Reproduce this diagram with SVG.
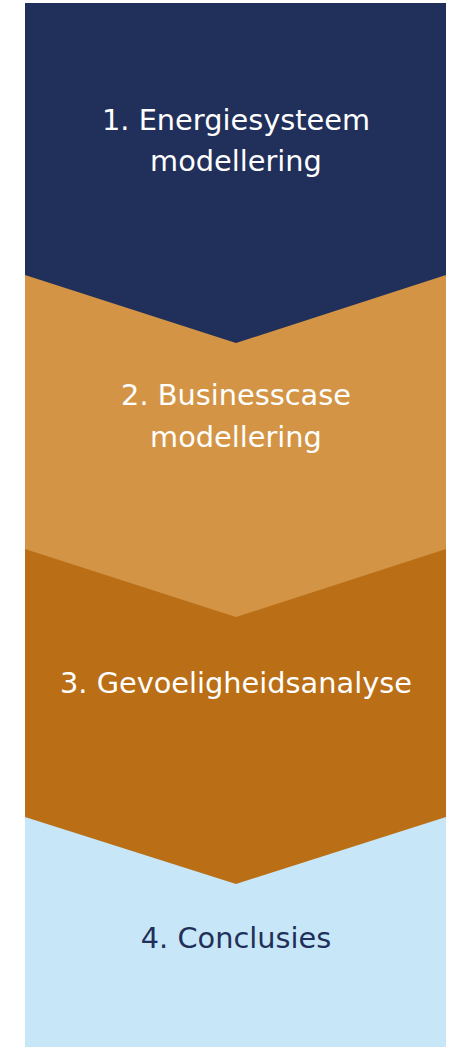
<svg xmlns="http://www.w3.org/2000/svg" width="454" height="1048" viewBox="0 0 454 1048">
<style>
text{font-family:"DejaVu Sans",Verdana,sans-serif;font-size:28.8px;text-anchor:middle;fill:#ffffff}
.dark{fill:#21305A}
</style>
<rect width="454" height="1048" fill="#ffffff"/>
<g id="step4">
<polygon points="25,817 446,817 446,1047 25,1047" fill="#C7E7F8"/>
<text x="236" y="948" class="dark">4. Conclusies</text>
</g>
<g id="step3">
<polygon points="25,549 446,549 446,817 236,884 25,817" fill="#BA6F17"/>
<text x="236" y="693">3. Gevoeligheidsanalyse</text>
</g>
<g id="step2">
<polygon points="25,275 446,275 446,549 236,617 25,549" fill="#D39545"/>
<text x="236" y="405">2. Businesscase</text>
<text x="236" y="447">modellering</text>
</g>
<g id="step1">
<polygon points="25,3 446,3 446,275 236,343 25,275" fill="#21305A"/>
<text x="236" y="130">1. Energiesysteem</text>
<text x="236" y="171">modellering</text>
</g>
<g id="connectors"></g>
</svg>
